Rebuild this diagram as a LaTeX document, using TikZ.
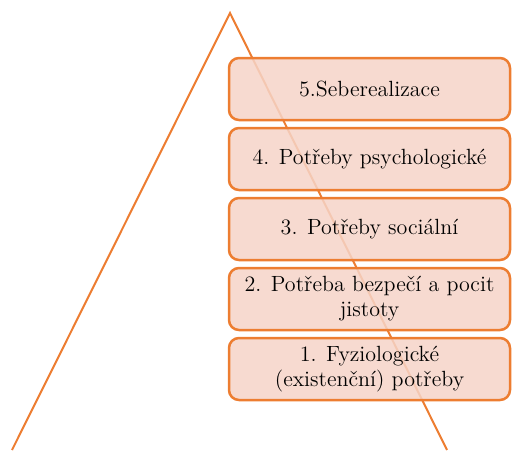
\documentclass[tikz,border=0pt]{standalone}
\usepackage{tikz}
\definecolor{accent}{RGB}{237,125,49}
\definecolor{boxfill}{RGB}{246,212,200}
\tikzset{
	level/.style={draw=accent, line width=1.25pt, fill=boxfill, fill opacity=0.85, text opacity=1,
		rounded corners=5pt, minimum width=140.5pt, minimum height=31pt, inner sep=2pt,
		align=center, font=\fontsize{11}{12.5}\selectfont}
}

\begin{document}
\begin{tikzpicture}[x=0.5pt, y=-0.5pt]
			%%%%% START %%%%%
			\useasboundingbox (0, 0) rectangle (512, 450);
			
			\draw[accent, line width=1pt] (12, 450) -- (230, 13) -- (447, 450);
			
			\node[level] (lvl5) at (369.5, 89) {5.Seberealizace};
			\node[level] (lvl4) at (369.5, 159) {4. Potřeby psychologické};
			\node[level] (lvl3) at (369.5, 229) {3. Potřeby sociální};
			\node[level] (lvl2) at (369.5, 299) {2. Potřeba bezpečí a pocit\\jistoty};
			\node[level] (lvl1) at (369.5, 369) {1. Fyziologické\\(existenční) potřeby};
			
			%%%%% END %%%%%
\end{tikzpicture}
\end{document}
